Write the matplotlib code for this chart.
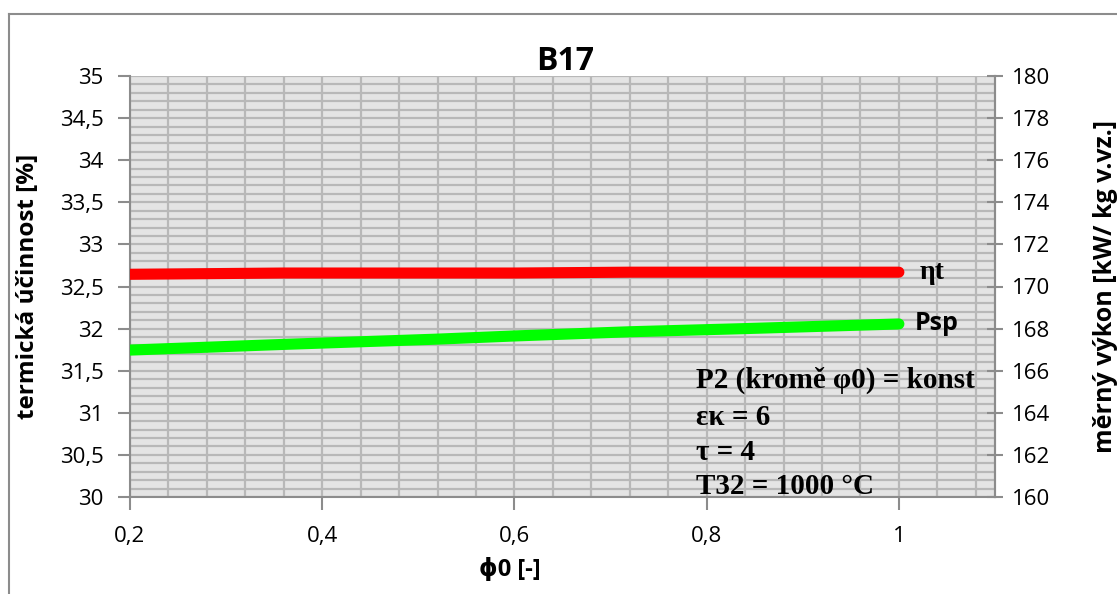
import matplotlib
matplotlib.use("Agg")
import matplotlib.pyplot as plt
from matplotlib.ticker import MultipleLocator, FuncFormatter
from matplotlib.lines import Line2D

phi0 = [0.2, 0.36, 0.52, 0.6, 0.72, 0.84, 1.0]
eta_t = [32.645, 32.66, 32.66, 32.66, 32.67, 32.67, 32.67]
p_sp = [166.98, 167.25, 167.5, 167.65, 167.85, 168.0, 168.22]

title = "B17"
xlabel = "ϕ0 [-]"
ylabel_left = "termická účinnost [%]"
ylabel_right = "měrný výkon [kW/ kg v.vz.]"
note_lines = ["P2 (kromě φ0) = konst", "εκ = 6", "τ = 4", "T32 = 1000 °C"]

sans = ["Open Sans", "DejaVu Sans"]
serif = ["Liberation Serif", "DejaVu Serif"]

fig = plt.figure(figsize=(11.17, 5.94), dpi=100)
fig.patch.set_facecolor("white")
ax = fig.add_axes([130/1117, 1-497/594, 865/1117, 421/594])
ax.set_facecolor("#e4e4e4")

ax.set_xlim(0.2, 1.1)
ax.set_ylim(30, 35)
ax.xaxis.set_major_locator(MultipleLocator(0.2))
ax.xaxis.set_minor_locator(MultipleLocator(0.04))
ax.yaxis.set_major_locator(MultipleLocator(0.5))
ax.yaxis.set_minor_locator(MultipleLocator(0.1))
ax.grid(which="both", color="#b8b8b8", linewidth=1.6)
ax.set_axisbelow(True)

fmt = FuncFormatter(lambda v, p: (f"{v:g}").replace(".", ","))
ax.xaxis.set_major_formatter(fmt)
ax.yaxis.set_major_formatter(fmt)
ax.tick_params(which="minor", length=0)
ax.tick_params(which="major", length=9, width=1.5, color="#8c8c8c", labelsize=16, pad=10)
ax.tick_params(axis="x", pad=12)
for lab in ax.get_xticklabels() + ax.get_yticklabels():
    lab.set_fontfamily(sans)

ax.spines["top"].set_visible(False)
for s in ["left", "bottom", "right"]:
    ax.spines[s].set_color("#8c8c8c")
    ax.spines[s].set_linewidth(1.5)

ax.plot(phi0, eta_t, color="#ff0000", linewidth=8, solid_capstyle="round", zorder=3)

ax2 = ax.twinx()
ax2.set_ylim(160, 180)
ax2.yaxis.set_major_locator(MultipleLocator(2))
ax2.tick_params(which="major", length=12, width=1.5, color="#8c8c8c", labelsize=16, pad=6, direction="inout")
for lab in ax2.get_yticklabels():
    lab.set_fontfamily(sans)
for s in ["top", "left", "bottom"]:
    ax2.spines[s].set_visible(False)
ax2.spines["right"].set_color("#8c8c8c")
ax2.spines["right"].set_linewidth(1.5)
ax2.plot(phi0, p_sp, color="#00ff00", linewidth=8, solid_capstyle="round", zorder=3)

fig.text(565 / 1117, 1 - 62 / 594, title, fontsize=23, fontweight="bold", family=sans,
         ha="center", va="center")
ax.set_xlabel(xlabel, fontsize=17, fontweight="bold", family=sans)
ax.xaxis.set_label_coords((510 - 130) / 865, -0.145)
ax.set_ylabel(ylabel_left, fontsize=17.5, fontweight="bold", family=sans)
ax.yaxis.set_label_coords(-(130 - 40) / 865, 0.5)
ax2.set_ylabel(ylabel_right, fontsize=18, fontweight="bold", family=sans)
ax2.yaxis.set_label_coords((1093 - 130) / 865, 0.5)

ax.text(1.022, eta_t[-1], "ηt", fontsize=20, fontweight="bold", family=serif, va="center", ha="left")
ax2.text(1.016, p_sp[-1], "Psp", fontsize=18, fontweight="bold", family=sans, va="center", ha="left")

ys = [31.38, 30.95, 30.53, 30.12]
for t, y in zip(note_lines, ys):
    ax.text(0.789, y, t, fontsize=21, fontweight="bold", family=serif, va="center", ha="left")

fig.add_artist(Line2D([9/1117, 9/1117], [0, 1-14/594], color="#8c8c8c", linewidth=1.5, transform=fig.transFigure))
fig.add_artist(Line2D([9/1117, 1], [1-14/594, 1-14/594], color="#8c8c8c", linewidth=1.5, transform=fig.transFigure))

fig.savefig("out.png", dpi=100)
